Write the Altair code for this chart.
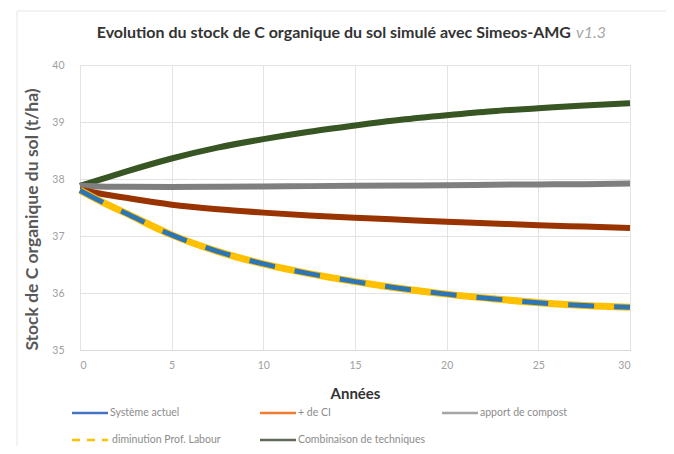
import altair as alt
import pandas as pd

# ---- data ----
years = [0, 1, 2.5, 5, 7.5, 10, 12.5, 15, 17.5, 20, 22.5, 25, 27.5, 30]
systeme_actuel = [37.80, 37.63, 37.40, 37.02, 36.73, 36.51, 36.34, 36.20, 36.08, 35.98, 35.90, 35.83, 35.78, 35.75]
plus_ci = [37.81, 37.75, 37.67, 37.55, 37.47, 37.41, 37.36, 37.32, 37.285, 37.25, 37.22, 37.19, 37.165, 37.14]
compost = [37.88, 37.87, 37.865, 37.86, 37.865, 37.87, 37.875, 37.88, 37.885, 37.89, 37.90, 37.905, 37.91, 37.92]
diminution = [37.80, 37.63, 37.40, 37.02, 36.73, 36.51, 36.34, 36.20, 36.08, 35.98, 35.90, 35.83, 35.78, 35.75]
combinaison = [37.88, 37.98, 38.13, 38.36, 38.55, 38.70, 38.83, 38.94, 39.04, 39.12, 39.19, 39.24, 39.29, 39.33]

series_names = ["Système actuel", "+ de CI", "apport de compost",
                "diminution Prof. Labour", "Combinaison de techniques"]
line_colors = ["#2E75B6", "#993300", "#7F7F7F", "#FFC000", "#375623"]
legend_colors = ["#4472C4", "#ED7D31", "#A5A5A5", "#FFC000", "#5F6B58"]
x_ticks = [0, 5, 10, 15, 20, 25, 30]
y_ticks = [35, 36, 37, 38, 39, 40]

title_main = "Evolution du stock de C organique du sol simulé avec Simeos-AMG"
title_version = "v1.3"
x_title = "Années"
y_title = "Stock de C organique du sol  (t/ha)"

values = [systeme_actuel, plus_ci, compost, diminution, combinaison]
frames = []
for name, vals in zip(series_names, values):
    frames.append(pd.DataFrame({"annee": years, "stock": vals, "serie": name}))
df = pd.concat(frames, ignore_index=True)

W, H = 550, 285
FONT = "Lato"

xs = alt.Scale(domain=[0, 30], nice=False)
ys = alt.Scale(domain=[35, 40], nice=False)

x_axis = alt.Axis(values=x_ticks, title=x_title, grid=True, gridColor="#E3E3E3",
                  domain=True, domainColor="#D9D9D9", ticks=False, labelPadding=10,
                  labelColor="#A0A0A0", labelFontSize=10.5, labelFont=FONT,
                  titleFont=FONT, titleFontSize=15, titleFontWeight="bold",
                  titleColor="#333333", titlePadding=16)
y_axis = alt.Axis(values=y_ticks, title=y_title, grid=True, gridColor="#E3E3E3",
                  domain=False, ticks=False, labelPadding=16,
                  labelColor="#A0A0A0", labelFontSize=10.5, labelFont=FONT,
                  titleFont=FONT, titleFontSize=17.5, titleFontWeight="bold",
                  titleColor="#595959", titlePadding=10, titleY=154)


def series_line(name, color, width, dash=None):
    kw = dict(strokeWidth=width, strokeCap="butt", interpolate="monotone", clip=False)
    if dash:
        kw["strokeDash"] = dash
    return alt.Chart(df).transform_filter(alt.datum.serie == name).mark_line(
        color=color, **kw).encode(
        x=alt.X("annee:Q", scale=xs, axis=x_axis),
        y=alt.Y("stock:Q", scale=ys, axis=y_axis),
    )


layers = [
    series_line(series_names[4], line_colors[4], 6),
    series_line(series_names[2], line_colors[2], 6),
    series_line(series_names[1], line_colors[1], 6),
    series_line(series_names[3], line_colors[3], 7),
    series_line(series_names[0], line_colors[0], 5, [26, 20]),
]

# ---- title (text marks) ----
layers.append(alt.Chart().mark_text(text=title_main, font=FONT, fontSize=16,
                                    fontWeight="bold", color="#333333", align="right",
                                    baseline="middle").encode(
    x=alt.value(491), y=alt.value(-32)))
layers.append(alt.Chart().mark_text(text=title_version, font=FONT, fontSize=16,
                                    fontStyle="italic", color="#A6A6A6", align="left",
                                    baseline="middle").encode(
    x=alt.value(496), y=alt.value(-32)))

# ---- manual legend ----
leg_cols = [-8, 180, 362, -8, 180]
leg_rows = [348, 348, 348, 375, 375]
for i, name in enumerate(series_names):
    x0, y0 = leg_cols[i], leg_rows[i]
    rule_kw = dict(color=legend_colors[i], strokeWidth=2.5)
    if i == 3:
        rule_kw["strokeDash"] = [8, 7]
    layers.append(alt.Chart().mark_rule(**rule_kw).encode(
        x=alt.value(x0), x2=alt.value(x0 + 36), y=alt.value(y0)))
    lx = x0 + 38 if i != 3 else x0 + 40
    layers.append(alt.Chart().mark_text(text=name, font=FONT, fontSize=10.5,
                                        color="#8C8C8C", align="left",
                                        baseline="middle").encode(
        x=alt.value(lx), y=alt.value(y0)))

# faint outer frame of the original chart
layers.append(alt.Chart().mark_rule(color="#E6E6E6", strokeWidth=1).encode(
    x=alt.value(-63), y=alt.value(-54), y2=alt.value(H + 96)))
layers.append(alt.Chart().mark_rule(color="#E6E6E6", strokeWidth=1).encode(
    x=alt.value(-63), x2=alt.value(W + 36), y=alt.value(-54)))

chart = alt.layer(*layers).properties(
    width=W, height=H,
    autosize=alt.AutoSizeParams(type="none"),
    padding={"left": 72, "top": 57, "right": 36, "bottom": 96},
).configure_view(stroke=None).configure(background="white")

chart.save("out.html", embed_options={"renderer": "svg", "actions": False})
